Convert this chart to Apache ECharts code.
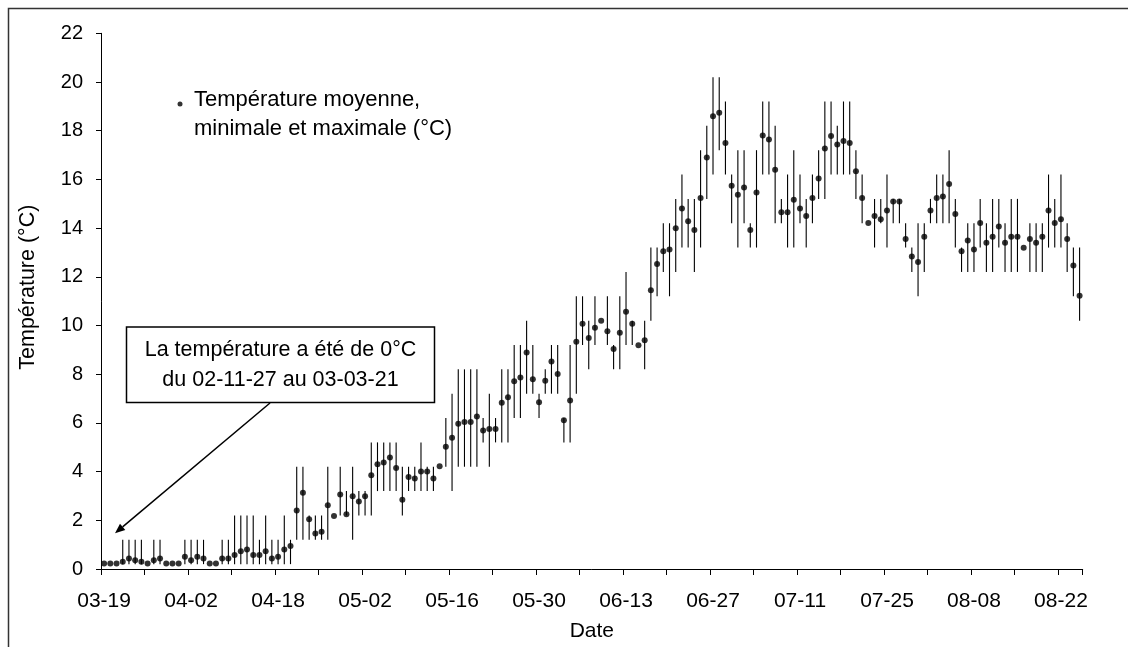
<!DOCTYPE html>
<html>
<head>
<meta charset="utf-8">
<script src="https://cdn.jsdelivr.net/npm/echarts@6.0.0/dist/echarts.min.js"></script>
<style>
  html, body { margin: 0; padding: 0; background: #fff; }
  #chart { width: 1128px; height: 647px; }
</style>
</head>
<body>
<div id="chart"></div>
<script>
// Date ranges making up the category axis: [month, first day, last day]
const dateRanges = [['03', 19, 31], ['04', 1, 11], ['04', 14, 30], ['05', 1, 31], ['06', 1, 30], ['07', 1, 31], ['08', 1, 25]];
const tickLabels = ['03-19', '04-02', '04-18', '05-02', '05-16', '05-30', '06-13', '06-27', '07-11', '07-25', '08-08', '08-22'];

const meanTemp = [
  0.23, 0.23, 0.23, 0.30, 0.43, 0.36, 0.30, 0.23, 0.36, 0.43,
  0.23, 0.23, 0.23, 0.50, 0.36, 0.50, 0.43, 0.23, 0.23, 0.43,
  0.43, 0.57, 0.73, 0.80, 0.57, 0.57, 0.73, 0.43, 0.50, 0.80,
  0.94, 2.40, 3.13, 2.04, 1.46, 1.53, 2.62, 2.18, 3.06, 2.25,
  2.99, 2.77, 2.99, 3.85, 4.30, 4.37, 4.58, 4.15, 2.84, 3.78,
  3.72, 4.00, 4.00, 3.72, 4.22, 5.02, 5.39, 5.96, 6.04, 6.04,
  6.26, 5.69, 5.75, 5.75, 6.83, 7.05, 7.71, 7.86, 8.89, 7.79,
  6.85, 7.73, 8.52, 8.01, 6.11, 6.92, 9.33, 10.07, 9.49, 9.91,
  10.20, 9.76, 9.04, 9.70, 10.56, 10.07, 9.19, 9.39, 11.45, 12.53,
  13.05, 13.12, 13.99, 14.80, 14.28, 13.92, 15.24, 16.90, 18.59, 18.74,
  17.50, 15.74, 15.37, 15.67, 13.92, 15.46, 17.80, 17.64, 16.40, 14.65,
  14.65, 15.16, 14.80, 14.50, 15.24, 16.04, 17.27, 17.78, 17.43, 17.58,
  17.50, 16.33, 15.24, 14.21, 14.50, 14.36, 14.72, 15.09, 15.09, 13.55,
  12.83, 12.61, 13.64, 14.72, 15.24, 15.30, 15.81, 14.58, 13.05, 13.49,
  13.12, 14.21, 13.40, 13.64, 14.07, 13.40, 13.64, 13.64, 13.19, 13.55,
  13.40, 13.64, 14.72, 14.21, 14.36, 13.55, 12.46, 11.22
];
const minTemp = [
  0.2, 0.2, 0.2, 0.2, 0.2, 0.2, 0.2, 0.2, 0.2, 0.2,
  0.2, 0.2, 0.2, 0.2, 0.2, 0.2, 0.2, 0.2, 0.2, 0.2,
  0.2, 0.2, 0.2, 0.2, 0.2, 0.2, 0.2, 0.2, 0.2, 0.2,
  0.2, 1.2, 1.2, 1.2, 1.2, 1.2, 1.2, 2.2, 2.2, 2.2,
  1.2, 2.2, 2.2, 2.2, 3.2, 3.2, 3.2, 3.2, 2.2, 3.2,
  3.2, 3.2, 3.2, 3.2, 4.2, 4.2, 3.2, 4.2, 4.2, 4.2,
  4.2, 5.2, 4.2, 5.2, 5.2, 5.2, 6.2, 6.2, 7.2, 7.2,
  6.2, 7.2, 7.2, 7.2, 5.2, 5.2, 7.2, 9.2, 8.2, 9.2,
  10.2, 9.2, 8.2, 8.2, 9.2, 9.2, 9.2, 8.2, 10.2, 11.2,
  12.2, 11.2, 12.2, 13.2, 13.2, 12.2, 13.2, 15.2, 16.2, 17.2,
  16.2, 14.2, 13.2, 14.2, 13.2, 13.2, 16.2, 16.2, 14.2, 14.2,
  13.2, 13.2, 14.2, 13.2, 14.2, 15.2, 15.2, 16.2, 16.2, 16.2,
  16.2, 15.2, 14.2, 14.2, 13.2, 14.2, 13.2, 14.2, 14.2, 13.2,
  12.2, 11.2, 12.2, 14.2, 14.2, 14.2, 14.2, 13.2, 12.2, 12.2,
  12.2, 13.2, 12.2, 12.2, 13.2, 12.2, 12.2, 12.2, 13.2, 12.2,
  12.2, 12.2, 13.2, 13.2, 13.2, 12.2, 11.2, 10.2
];
const maxTemp = [
  0.2, 0.2, 0.2, 1.2, 1.2, 1.2, 1.2, 0.2, 1.2, 1.2,
  0.2, 0.2, 0.2, 1.2, 1.2, 1.2, 1.2, 0.2, 0.2, 1.2,
  1.2, 2.2, 2.2, 2.2, 2.2, 1.2, 2.2, 1.2, 1.2, 2.2,
  1.2, 4.2, 4.2, 2.2, 2.2, 2.2, 4.2, 2.2, 4.2, 3.2,
  4.2, 3.2, 3.2, 5.2, 5.2, 5.2, 5.2, 5.2, 4.2, 4.2,
  4.2, 5.2, 4.2, 4.2, 4.2, 6.2, 7.2, 8.2, 8.2, 8.2,
  8.2, 6.2, 7.2, 6.2, 8.2, 8.2, 9.2, 9.2, 10.2, 9.2,
  7.2, 8.2, 9.2, 9.2, 6.2, 9.2, 11.2, 11.2, 10.2, 11.2,
  10.2, 11.2, 9.2, 11.2, 12.2, 10.2, 9.2, 10.2, 13.2, 13.2,
  14.2, 14.2, 15.2, 16.2, 15.2, 15.2, 17.2, 18.2, 20.2, 20.2,
  19.2, 16.2, 17.2, 17.2, 14.2, 17.2, 19.2, 19.2, 18.2, 15.2,
  16.2, 17.2, 16.2, 15.2, 16.2, 17.2, 19.2, 19.2, 18.2, 19.2,
  19.2, 17.2, 16.2, 14.2, 15.2, 15.2, 16.2, 15.2, 15.2, 14.2,
  13.2, 14.2, 14.2, 15.2, 16.2, 16.2, 17.2, 15.2, 13.2, 14.2,
  14.2, 15.2, 14.2, 15.2, 15.2, 14.2, 15.2, 15.2, 13.2, 14.2,
  14.2, 14.2, 16.2, 15.2, 16.2, 14.2, 13.2, 13.2
];

const seriesName = 'Température moyenne,\nminimale et maximale (°C)';
const annotationText = 'La température a été de 0°C\ndu 02-11-27 au 03-03-21';
const FONT = '"Liberation Sans", Arial, sans-serif';

// Build category list from the date ranges
const categories = [];
dateRanges.forEach(([m, a, b]) => {
  for (let d = a; d <= b; d++) categories.push(m + '-' + String(d).padStart(2, '0'));
});

const barData = categories.map((c, i) => [i, minTemp[i], maxTemp[i]]);
const meanData = categories.map((c, i) => [i, meanTemp[i]]);

// Legend bullet placed near the top of an 18x32 icon box, so it sits beside the first text line
const legendIcon = 'path://M0,0 M18,32 M11.5,5.5 A2.5,2.5 0 1 1 6.5,5.5 A2.5,2.5 0 1 1 11.5,5.5 Z';

const chart = echarts.init(document.getElementById('chart'), null, { renderer: 'canvas' });

chart.setOption({
  backgroundColor: '#ffffff',
  animation: false,
  textStyle: { fontFamily: FONT, color: '#000' },
  grid: { left: 101, right: 45.3, top: 33.3, bottom: 76.5, containLabel: false },
  legend: {
    data: [seriesName],
    selectedMode: false,
    left: 171,
    top: 85.5,
    padding: 0,
    icon: legendIcon,
    itemWidth: 18,
    itemHeight: 32,
    textStyle: { fontFamily: FONT, fontSize: 22, color: '#000', lineHeight: 29 }
  },
  xAxis: {
    type: 'category',
    data: categories,
    boundaryGap: true,
    name: 'Date',
    nameLocation: 'middle',
    nameGap: 52,
    nameTextStyle: { fontFamily: FONT, fontSize: 21, color: '#000' },
    axisLine: { show: true, lineStyle: { color: '#000', width: 1 } },
    axisTick: { show: true, interval: 6, length: 6, lineStyle: { color: '#000', width: 1 } },
    axisLabel: {
      interval: 13,
      margin: 22,
      fontFamily: FONT,
      fontSize: 21,
      color: '#000',
      formatter: (v) => (tickLabels.indexOf(v) >= 0 ? v : '')
    },
    splitLine: { show: false }
  },
  yAxis: {
    type: 'value',
    min: 0,
    max: 22,
    interval: 2,
    name: 'Température (°C)',
    nameLocation: 'middle',
    nameGap: 62,
    nameRotate: 90,
    nameTextStyle: { fontFamily: FONT, fontSize: 21.5, color: '#000', padding: [0, 0, 0, 28] },
    axisLine: { show: true, lineStyle: { color: '#000', width: 1 } },
    axisTick: { show: true, length: 5, lineStyle: { color: '#000', width: 1 } },
    axisLabel: { margin: 18, fontFamily: FONT, fontSize: 20, color: '#000' },
    splitLine: { show: false }
  },
  series: [
    {
      type: 'custom',
      name: 'minmax',
      data: barData,
      encode: { x: 0, y: [1, 2] },
      z: 2,
      renderItem: function (params, api) {
        const x = api.value(0);
        const p1 = api.coord([x, api.value(1)]);
        const p2 = api.coord([x, api.value(2)]);
        return {
          type: 'line',
          shape: { x1: p1[0], y1: p1[1], x2: p2[0], y2: p2[1] },
          style: { stroke: '#000', lineWidth: 1.1 }
        };
      }
    },
    {
      type: 'scatter',
      name: seriesName,
      data: meanData,
      symbol: 'circle',
      symbolSize: 6,
      z: 3,
      itemStyle: { color: '#000' }
    }
  ],
  graphic: [
    {
      type: 'rect',
      z: -10,
      silent: true,
      shape: { x: 8.5, y: 8.5, width: 1200, height: 800 },
      style: { fill: null, stroke: '#333', lineWidth: 1.5 }
    },
    {
      type: 'line',
      z: 50,
      shape: { x1: 270, y1: 403, x2: 122.6, y2: 526.9 },
      style: { stroke: '#000', lineWidth: 1.5 }
    },
    {
      type: 'polygon',
      z: 50,
      shape: { points: [[115, 533.3], [125.3, 529.9], [120.0, 523.8]] },
      style: { fill: '#000' }
    },
    {
      type: 'rect',
      z: 50,
      shape: { x: 126.5, y: 327, width: 308, height: 75.5 },
      style: { fill: '#fff', stroke: '#000', lineWidth: 1.5 }
    },
    {
      type: 'text',
      z: 51,
      x: 280.5,
      y: 365,
      style: {
        text: annotationText,
        fontFamily: FONT,
        fontSize: 21.5,
        lineHeight: 30,
        fill: '#000',
        align: 'center',
        verticalAlign: 'middle'
      }
    }
  ]
});
</script>
</body>
</html>
